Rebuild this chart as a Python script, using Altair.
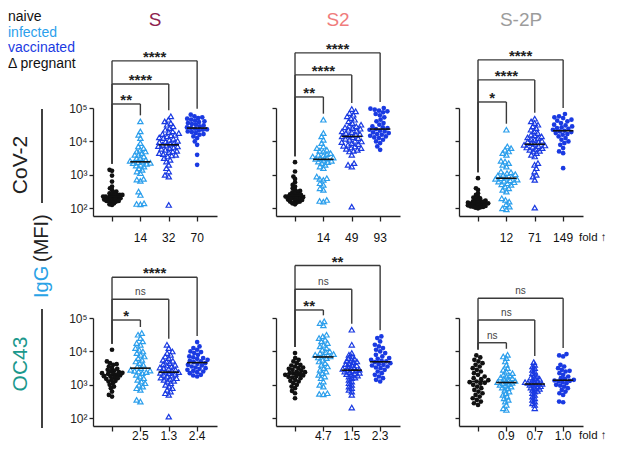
import numpy as np
import pandas as pd
import altair as alt

# ---------------- data: log10 IgG MFI ----------------
# CoV-2 row
cov2_S_naive = [3.15, 3.12, 2.98, 2.80, 2.65, 2.60, 2.55, 2.50, 2.48, 2.45, 2.42, 2.40, 2.40, 2.38, 2.36, 2.35, 2.33,
                2.30, 2.30, 2.28, 2.26, 2.25, 2.22, 2.20, 2.20, 2.18, 2.15, 2.12, 2.10, 2.30, 2.35, 2.28, 2.22, 2.40]
cov2_S_infected = [4.60, 4.30, 4.20, 4.10, 3.95, 3.85, 3.80, 3.75, 3.70, 3.70, 3.65, 3.60, 3.60, 3.55, 3.50, 3.50,
                   3.45, 3.42, 3.40, 3.38, 3.36, 3.35, 3.33, 3.30, 3.28, 3.25, 3.20, 3.15, 3.10, 3.05, 2.88, 2.86,
                   2.82, 2.50, 2.40, 2.15, 2.13, 2.12]
cov2_S_vaccpreg = [4.75, 4.65, 4.60, 4.55, 4.50, 4.45, 4.40, 4.35, 4.30, 4.28, 4.25, 4.22, 4.20, 4.18, 4.15, 4.12,
                   4.10, 4.08, 4.05, 4.02, 4.00, 3.98, 3.95, 3.93, 3.90, 3.88, 3.86, 3.85, 3.82, 3.80, 3.78, 3.75,
                   3.72, 3.70, 3.68, 3.65, 3.62, 3.60, 3.58, 3.55, 3.50, 3.45, 3.40, 3.30, 3.20, 3.10, 3.00, 2.95, 2.10]
cov2_S_vacc = [4.80, 4.75, 4.72, 4.70, 4.68, 4.65, 4.62, 4.60, 4.58, 4.55, 4.52, 4.50, 4.48, 4.45, 4.42, 4.40,
               4.38, 4.36, 4.35, 4.33, 4.30, 4.28, 4.25, 4.22, 4.20, 4.15, 4.10, 4.00, 3.90, 3.60, 3.30]

cov2_S2_naive = [3.38, 3.10, 2.95, 2.88, 2.78, 2.70, 2.65, 2.60, 2.55, 2.52, 2.50, 2.48, 2.45, 2.42, 2.40, 2.38, 2.36,
                 2.35, 2.33, 2.30, 2.30, 2.28, 2.26, 2.25, 2.22, 2.20, 2.20, 2.18, 2.15, 2.12, 2.35, 2.40, 2.30]
cov2_S2_infected = [4.65, 4.25, 4.15, 4.05, 3.95, 3.85, 3.80, 3.75, 3.72, 3.70, 3.65, 3.62, 3.60, 3.58, 3.55, 3.52,
                    3.50, 3.50, 3.48, 3.45, 3.42, 3.40, 3.38, 3.35, 3.30, 3.25, 3.20, 2.95, 2.90, 2.88, 2.85, 2.75,
                    2.70, 2.60, 2.55, 2.25, 2.22, 2.20]
cov2_S2_vaccpreg = [4.97, 4.90, 4.85, 4.80, 4.75, 4.70, 4.65, 4.60, 4.55, 4.50, 4.47, 4.45, 4.42, 4.40, 4.38, 4.35,
                    4.32, 4.30, 4.28, 4.25, 4.22, 4.20, 4.18, 4.15, 4.12, 4.10, 4.08, 4.05, 4.02, 4.00, 3.98, 3.95,
                    3.92, 3.90, 3.87, 3.85, 3.82, 3.80, 3.78, 3.75, 3.72, 3.70, 3.60, 3.35, 3.30, 3.25, 2.05]
cov2_S2_vacc = [5.00, 4.98, 4.95, 4.92, 4.90, 4.87, 4.82, 4.78, 4.72, 4.65, 4.60, 4.55, 4.50, 4.45, 4.42, 4.40,
                4.37, 4.35, 4.32, 4.30, 4.27, 4.25, 4.22, 4.20, 4.17, 4.15, 4.12, 4.10, 4.05, 4.00, 3.95, 3.85, 3.75]

cov2_S2P_naive = [2.90, 2.60, 2.55, 2.45, 2.40, 2.35, 2.32, 2.30, 2.27, 2.25, 2.23, 2.21, 2.19, 2.17, 2.15, 2.15,
                  2.14, 2.13, 2.12, 2.11, 2.10, 2.09, 2.08, 2.07, 2.06, 2.05, 2.04, 2.03, 2.02, 2.00, 2.18, 2.20, 2.16]
cov2_S2P_infected = [4.35, 3.85, 3.80, 3.75, 3.70, 3.65, 3.60, 3.42, 3.40, 3.35, 3.30, 3.25, 3.10, 3.08, 3.05, 3.02,
                     3.00, 2.98, 2.95, 2.92, 2.90, 2.88, 2.86, 2.84, 2.82, 2.80, 2.78, 2.75, 2.72, 2.70, 2.65, 2.60,
                     2.55, 2.50, 2.30, 2.25, 2.20, 2.12, 2.05, 2.00, 1.97]
cov2_S2P_vaccpreg = [4.68, 4.60, 4.55, 4.50, 4.45, 4.40, 4.35, 4.30, 4.25, 4.20, 4.18, 4.15, 4.12, 4.10, 4.07, 4.05,
                     4.02, 4.00, 3.98, 3.95, 3.93, 3.90, 3.88, 3.86, 3.84, 3.82, 3.80, 3.78, 3.75, 3.72, 3.70, 3.65,
                     3.60, 3.55, 3.35, 3.30, 3.20, 3.10, 3.00, 2.95, 2.85, 2.02]
cov2_S2P_vacc = [4.82, 4.75, 4.72, 4.70, 4.65, 4.62, 4.60, 4.55, 4.50, 4.48, 4.45, 4.42, 4.40, 4.38, 4.35, 4.32,
                 4.30, 4.28, 4.25, 4.22, 4.20, 4.15, 4.10, 4.05, 4.00, 3.95, 3.90, 3.80, 3.70, 3.65, 3.20]

# OC43 row
oc43_S_naive = [4.05, 3.70, 3.65, 3.62, 3.60, 3.55, 3.50, 3.48, 3.45, 3.42, 3.40, 3.38, 3.36, 3.35, 3.33, 3.32,
                3.30, 3.28, 3.26, 3.25, 3.22, 3.20, 3.18, 3.15, 3.12, 3.10, 3.05, 3.00, 2.95, 2.90, 2.80, 2.70, 2.65]
oc43_S_infected = [4.55, 4.50, 4.40, 4.30, 4.25, 4.20, 4.10, 4.05, 4.00, 3.95, 3.90, 3.85, 3.80, 3.75, 3.70, 3.65,
                   3.60, 3.55, 3.50, 3.45, 3.43, 3.42, 3.40, 3.38, 3.35, 3.30, 3.25, 3.20, 3.15, 3.10, 3.05, 3.00,
                   2.95, 2.90, 2.85, 2.55, 2.50]
oc43_S_vaccpreg = [4.20, 4.10, 4.00, 3.95, 3.90, 3.85, 3.80, 3.75, 3.72, 3.70, 3.65, 3.62, 3.60, 3.58, 3.55, 3.52,
                   3.50, 3.48, 3.45, 3.42, 3.40, 3.38, 3.36, 3.35, 3.33, 3.30, 3.28, 3.25, 3.22, 3.20, 3.18, 3.15,
                   3.12, 3.10, 3.05, 3.00, 2.95, 2.90, 2.85, 2.80, 2.75, 2.70, 2.05]
oc43_S_vacc = [4.28, 4.15, 4.10, 4.05, 4.00, 3.98, 3.95, 3.90, 3.85, 3.82, 3.80, 3.78, 3.75, 3.72, 3.70, 3.68,
               3.65, 3.63, 3.60, 3.58, 3.55, 3.52, 3.50, 3.48, 3.45, 3.42, 3.40, 3.38, 3.35, 3.30, 3.28, 3.25]

oc43_S2_naive = [3.95, 3.80, 3.75, 3.70, 3.65, 3.60, 3.58, 3.55, 3.52, 3.50, 3.48, 3.45, 3.42, 3.40, 3.38, 3.36,
                 3.34, 3.32, 3.30, 3.28, 3.26, 3.24, 3.22, 3.20, 3.15, 3.12, 3.10, 3.05, 3.00, 2.95, 2.90, 2.82,
                 2.75, 2.60]
oc43_S2_infected = [4.90, 4.85, 4.78, 4.50, 4.45, 4.40, 4.35, 4.30, 4.25, 4.20, 4.15, 4.10, 4.05, 4.00, 3.98, 3.95,
                    3.92, 3.90, 3.88, 3.85, 3.82, 3.80, 3.75, 3.70, 3.65, 3.60, 3.55, 3.50, 3.45, 3.40, 3.35, 3.30,
                    3.25, 3.20, 3.10, 3.00, 2.95, 2.75, 2.73, 2.72]
oc43_S2_vaccpreg = [4.65, 4.20, 3.95, 3.90, 3.85, 3.80, 3.78, 3.75, 3.72, 3.70, 3.68, 3.65, 3.62, 3.60, 3.58, 3.55,
                    3.52, 3.50, 3.48, 3.46, 3.45, 3.44, 3.42, 3.40, 3.38, 3.36, 3.34, 3.32, 3.30, 3.28, 3.25, 3.22,
                    3.20, 3.15, 3.10, 3.05, 3.00, 2.95, 2.90, 2.85, 2.80, 2.70, 2.32]
oc43_S2_vacc = [4.45, 4.40, 4.30, 4.20, 4.15, 4.10, 4.05, 4.00, 3.95, 3.90, 3.85, 3.80, 3.78, 3.75, 3.72, 3.70,
                3.68, 3.65, 3.62, 3.60, 3.58, 3.55, 3.52, 3.50, 3.45, 3.40, 3.35, 3.30, 3.25, 3.20, 3.15, 3.10]

oc43_S2P_naive = [3.88, 3.82, 3.75, 3.70, 3.65, 3.60, 3.55, 3.50, 3.45, 3.40, 3.35, 3.30, 3.25, 3.20, 3.17, 3.14,
                  3.10, 3.08, 3.06, 3.04, 3.00, 2.95, 2.90, 2.85, 2.80, 2.75, 2.70, 2.65, 2.60, 2.55, 2.50, 2.45, 2.40]
oc43_S2P_infected = [3.90, 3.85, 3.80, 3.70, 3.60, 3.50, 3.45, 3.40, 3.35, 3.30, 3.28, 3.25, 3.22, 3.20, 3.18, 3.15,
                     3.12, 3.10, 3.08, 3.06, 3.05, 3.03, 3.00, 2.98, 2.95, 2.92, 2.90, 2.85, 2.80, 2.75, 2.70, 2.65,
                     2.60, 2.55, 2.50, 2.40, 2.30, 2.25]
oc43_S2P_vaccpreg = [3.68, 3.60, 3.55, 3.50, 3.45, 3.40, 3.35, 3.30, 3.25, 3.22, 3.20, 3.18, 3.15, 3.12, 3.10, 3.08,
                     3.06, 3.05, 3.04, 3.03, 3.02, 3.00, 2.98, 2.96, 2.94, 2.92, 2.90, 2.88, 2.85, 2.82, 2.80, 2.75,
                     2.70, 2.65, 2.60, 2.55, 2.50, 2.45, 2.40, 2.30]
oc43_S2P_vacc = [3.92, 3.88, 3.85, 3.60, 3.55, 3.50, 3.45, 3.42, 3.40, 3.35, 3.30, 3.25, 3.20, 3.18, 3.15, 3.13,
                 3.12, 3.10, 3.08, 3.05, 3.00, 2.98, 2.95, 2.90, 2.85, 2.80, 2.75, 2.70, 2.50, 2.48]

# significance brackets (log10 level of the bracket) and labels
cov2_S_levels, cov2_S_sig = [5.12, 5.72, 6.41], ["**", "****", "****"]
cov2_S2_levels, cov2_S2_sig = [5.33, 5.99, 6.65], ["**", "****", "****"]
cov2_S2P_levels, cov2_S2P_sig = [5.18, 5.84, 6.44], ["*", "****", "****"]
oc43_S_levels, oc43_S_sig = [4.94, 5.56, 6.22], ["*", "ns", "****"]
oc43_S2_levels, oc43_S2_sig = [5.24, 5.86, 6.57], ["**", "ns", "**"]
oc43_S2P_levels, oc43_S2P_sig = [4.26, 4.94, 5.59], ["ns", "ns", "ns"]

# fold increase over naive
cov2_S_fold, cov2_S2_fold, cov2_S2P_fold = ["14", "32", "70"], ["14", "49", "93"], ["12", "71", "149"]
oc43_S_fold, oc43_S2_fold, oc43_S2P_fold = ["2.5", "1.3", "2.4"], ["4.7", "1.5", "2.3"], ["0.9", "0.7", "1.0"]

antigens = ["S", "S2", "S-2P"]
antigen_colors = ["#8E1F4F", "#F07C7C", "#9C9C9C"]
legend_items = ["naive", "infected", "vaccinated", "Δ pregnant"]
legend_colors = ["#111111", "#2C9FEC", "#1A3AE2", "#111111"]

# ---------------- layout constants ----------------
H = 108
W = 124
YMIN_LOG = 1.77
XMIN, XMAX = -0.67, 3.7
PPD = H / (5 - YMIN_LOG)
PXU = W / (XMAX - XMIN)
GAP = 0.18
MAXW = 11.0
C_INF = "#2C9FEC"
C_VAC = "#1A3AE2"
FONT = "Liberation Sans"

yscale = alt.Scale(type="log", domain=[10 ** YMIN_LOG, 1e5], nice=False)
xscale = alt.Scale(domain=[XMIN, XMAX], nice=False, zero=False)
xaxis = alt.Axis(values=[0, 1, 2, 3], labels=False, ticks=True, tickSize=5, grid=False, domain=True,
                 domainColor="#222", tickColor="#222", domainWidth=1.3, tickWidth=1.3, title=None)
LABEL_EXPR = ("'10' + (datum.value == 100 ? '²' : datum.value == 1000 ? '³' : "
              "datum.value == 10000 ? '⁴' : '⁵')")


def yaxis(show):
    return alt.Axis(values=[100, 1000, 10000, 100000], labels=show, labelExpr=LABEL_EXPR, tickSize=4,
                    grid=False, domain=True, domainColor="#222", tickColor="#222", domainWidth=1.3,
                    tickWidth=1.3, labelFontSize=12, labelPadding=2, labelColor="#222", labelFont=FONT,
                    title=None)


def swarm_once(yv, d):
    order = np.argsort(yv, kind="stable")
    placed = []
    xo = np.zeros(len(yv))
    for i in order:
        y = yv[i]
        near = [(px, py) for px, py in placed if abs(py - y) < d]
        cands = [0.0]
        for px, py in near:
            dx = np.sqrt(d * d - (py - y) ** 2)
            cands += [px + dx, px - dx]
        cands.sort(key=lambda c: (round(abs(c), 4), c))
        for c in cands:
            if all((c - px) ** 2 + (y - py) ** 2 >= d * d - 1e-6 for px, py in near):
                xo[i] = c
                break
        placed.append((xo[i], y))
    return xo


def swarm(logs, d=4.4):
    yv = np.asarray(logs, dtype=float) * PPD
    xo = swarm_once(yv, d)
    while np.abs(xo).max() > MAXW and d > 1.5:
        d *= 0.93
        xo = swarm_once(yv, d)
    return xo / PXU


def panel(groups, levels, sig, fold, ylabels, title_i, fold_dy, extra=()):
    rows = []
    kinds = ["naive", "infected", "vaccpreg", "vacc"]
    for g, (kind, vals) in enumerate(zip(kinds, groups)):
        offs = swarm(vals)
        for v, o in zip(vals, offs):
            rows.append({"g": g, "kind": kind, "v": 10 ** v, "x": g + o})
    df = pd.DataFrame(rows)
    ya = yaxis(ylabels)

    def X(f):
        return alt.X(f, type="quantitative", scale=xscale, axis=xaxis, title=None)

    def Y(f):
        return alt.Y(f, type="quantitative", scale=yscale, axis=ya, title=None)

    base = alt.Chart(df)
    layers = []
    style = {
        "naive": dict(shape="circle", filled=True, color="#111111", size=22),
        "infected": dict(shape="triangle-up", filled=False, color=C_INF, size=28, strokeWidth=1.2),
        "vaccpreg": dict(shape="triangle-up", filled=False, color=C_VAC, size=28, strokeWidth=1.2),
        "vacc": dict(shape="circle", filled=True, color=C_VAC, size=22),
    }
    for kind in kinds:
        layers.append(base.transform_filter(alt.datum.kind == kind)
                      .mark_point(opacity=1, **style[kind]).encode(x=X("x"), y=Y("v")))
    layers.append(base.transform_aggregate(med="median(v)", groupby=["g"])
                  .transform_calculate(x1="datum.g - 0.36", x2="datum.g + 0.36")
                  .mark_rule(color="#111", strokeWidth=1.6)
                  .encode(x=X("x1"), x2="x2:Q", y=Y("med")))

    naive_max = max(groups[0])
    br = pd.DataFrame({
        "g": [1, 2, 3],
        "x0": [0, 0, 0],
        "xm": [0.5, 1.0, 1.5],
        "lvl": [10 ** L for L in levels],
        "lab": sig,
        "lb": [10 ** (naive_max + GAP)] * 3,
        "rb": [10 ** (max(groups[k]) + GAP) for k in (1, 2, 3)],
    })
    bb = alt.Chart(br)
    rule_kw = dict(color="#3a3a3a", strokeWidth=1.4)
    layers.append(bb.mark_rule(**rule_kw).encode(x=X("x0"), x2="g:Q", y=Y("lvl")))
    layers.append(bb.mark_rule(**rule_kw).encode(x=X("x0"), y=Y("lvl"), y2="lb:Q"))
    layers.append(bb.mark_rule(**rule_kw).encode(x=X("g"), y=Y("lvl"), y2="rb:Q"))
    layers.append(bb.transform_filter(alt.datum.lab != "ns")
                  .mark_text(fontSize=15, fontWeight="bold", color="#222", baseline="alphabetic", dy=1, font=FONT)
                  .encode(x=X("xm"), y=Y("lvl"), text="lab:N"))
    layers.append(bb.transform_filter(alt.datum.lab == "ns")
                  .mark_text(fontSize=10, color="#444", baseline="alphabetic", dy=-4, font=FONT)
                  .encode(x=X("xm"), y=Y("lvl"), text="lab:N"))

    fd = pd.DataFrame({"g": [1, 2, 3], "f": fold})
    layers.append(alt.Chart(fd).mark_text(fontSize=12, color="#111", baseline="middle", font=FONT)
                  .encode(x=X("g"), y=alt.value(H + fold_dy), text="f:N"))

    if title_i is not None:
        t = pd.DataFrame({"t": [antigens[title_i]]})
        layers.append(alt.Chart(t).mark_text(fontSize=19, color=antigen_colors[title_i], baseline="middle",
                                             font=FONT)
                      .encode(x=alt.value(W / 2), y=alt.value(-88.5), text="t:N"))
    layers.extend(extra)
    return alt.layer(*layers).properties(width=W, height=H)


def text_item(txt, x, y, **kw):
    return (alt.Chart(pd.DataFrame({"t": [txt]}))
            .mark_text(font=FONT, **kw)
            .encode(x=alt.value(x), y=alt.value(y), text="t:N"))


def vline(x, y1, y2):
    return (alt.Chart(pd.DataFrame({"a": [0]})).mark_rule(color="#111", strokeWidth=1.6)
            .encode(x=alt.value(x), y=alt.value(y1), y2=alt.value(y2)))


TOP_FOLD_DY = 22
BOT_FOLD_DY = 10

legend_layers = []
for i, item in enumerate(legend_items):
    legend_layers.append(text_item(item, -85, -91 + 15.5 * i, fontSize=14, align="left", baseline="middle",
                                   color=legend_colors[i]))
row1_extra = legend_layers + [
    text_item("CoV-2", -72, 57, fontSize=21, angle=270, align="center", baseline="middle", color="#222"),
    vline(-51, 1, 95),
]
row2_extra = [
    text_item("OC43", -72, 46, fontSize=21, angle=270, align="center", baseline="middle", color="#1B988C"),
    vline(-51, -9, 110),
    text_item("IgG", -51, -20, fontSize=20, angle=270, align="left", baseline="middle", color="#2AA2E6"),
    text_item("(MFI)", -51, -56, fontSize=20, angle=270, align="left", baseline="middle", color="#222"),
]
fold_top = [text_item("fold ↑", 120, H + TOP_FOLD_DY, fontSize=11.5, align="left", baseline="middle",
                      color="#111")]
fold_bot = [text_item("fold ↑", 120, H + BOT_FOLD_DY, fontSize=11.5, align="left", baseline="middle",
                      color="#111")]

p11 = panel([cov2_S_naive, cov2_S_infected, cov2_S_vaccpreg, cov2_S_vacc], cov2_S_levels, cov2_S_sig,
            cov2_S_fold, True, 0, TOP_FOLD_DY, row1_extra)
p12 = panel([cov2_S2_naive, cov2_S2_infected, cov2_S2_vaccpreg, cov2_S2_vacc], cov2_S2_levels, cov2_S2_sig,
            cov2_S2_fold, False, 1, TOP_FOLD_DY)
p13 = panel([cov2_S2P_naive, cov2_S2P_infected, cov2_S2P_vaccpreg, cov2_S2P_vacc], cov2_S2P_levels,
            cov2_S2P_sig, cov2_S2P_fold, False, 2, TOP_FOLD_DY, fold_top)
p21 = panel([oc43_S_naive, oc43_S_infected, oc43_S_vaccpreg, oc43_S_vacc], oc43_S_levels, oc43_S_sig,
            oc43_S_fold, True, None, BOT_FOLD_DY, row2_extra)
p22 = panel([oc43_S2_naive, oc43_S2_infected, oc43_S2_vaccpreg, oc43_S2_vacc], oc43_S2_levels, oc43_S2_sig,
            oc43_S2_fold, False, None, BOT_FOLD_DY)
p23 = panel([oc43_S2P_naive, oc43_S2P_infected, oc43_S2P_vaccpreg, oc43_S2P_vacc], oc43_S2P_levels,
            oc43_S2P_sig, oc43_S2P_fold, False, None, BOT_FOLD_DY, fold_bot)

chart = (alt.concat(p11, p12, p13, p21, p22, p23, columns=3, spacing={"row": 102, "column": 59},
                    bounds="flush")
         .properties(padding={"left": 0, "top": 2, "right": 0, "bottom": 0}, background="white")
         .configure(font=FONT, view=alt.ViewConfig(stroke=None, strokeWidth=0)))

chart.save("out.html", embed_options={"renderer": "svg", "actions": False})
